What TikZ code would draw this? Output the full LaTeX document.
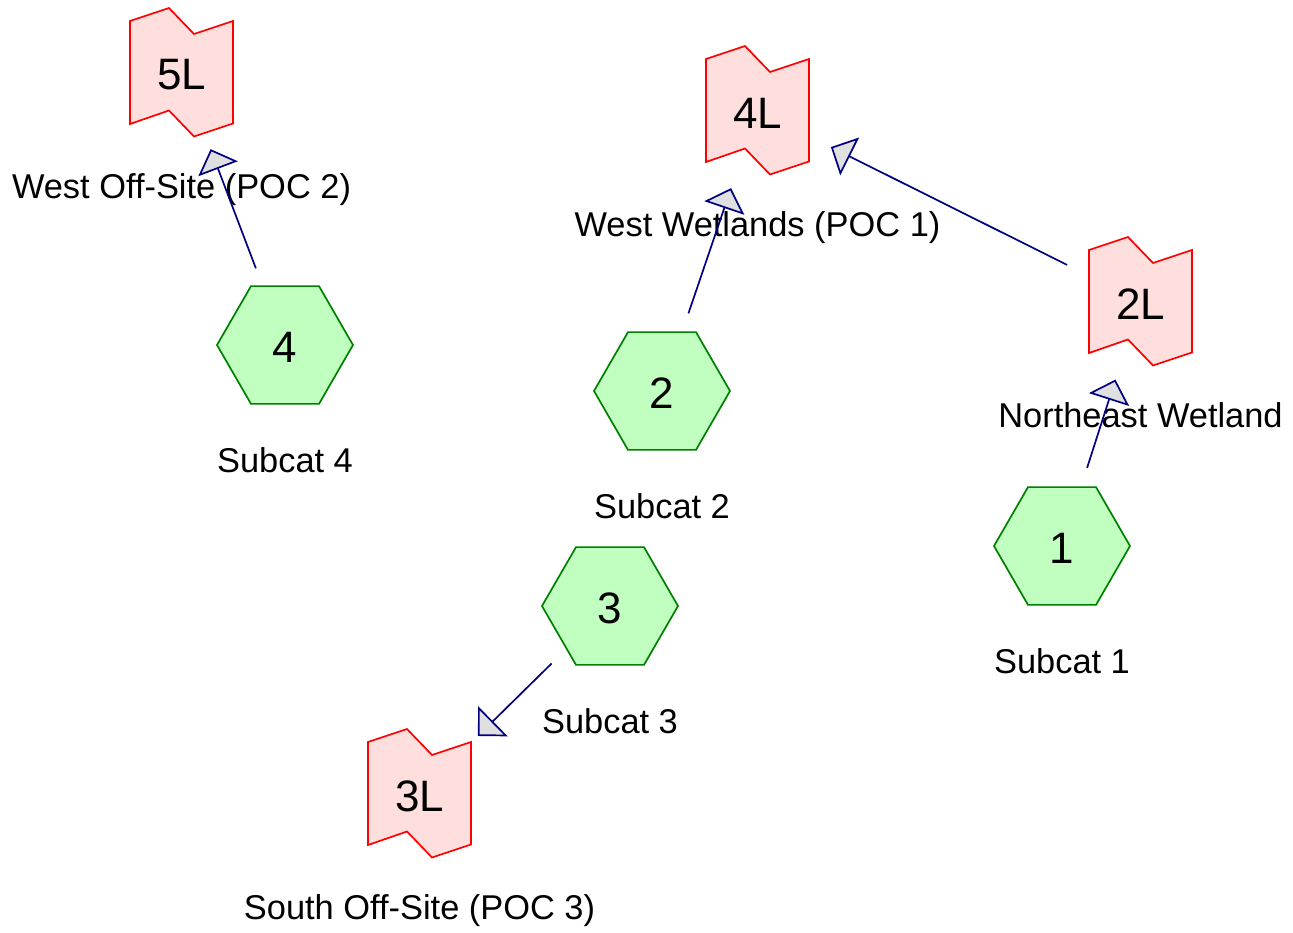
\documentclass[tikz,border=0pt]{standalone}
\usepackage{fontspec}
\setmainfont{Liberation Sans}
\usetikzlibrary{shapes.geometric,arrows.meta,calc}
\definecolor{hexfill}{HTML}{C0FFC0}
\definecolor{hexline}{HTML}{008000}
\definecolor{reachfill}{HTML}{FFDEDE}
\definecolor{reachline}{HTML}{FF0000}
\definecolor{flowline}{HTML}{000080}
\definecolor{tipfill}{HTML}{E0E0E0}
\newcommand\reachpoly[1]{%
  \draw[reachedge] ($(#1.center)+(-51.5,-51.5)$) -- ($(#1.center)+(-12.5,-64.5)$)
    -- ($(#1.center)+(12.5,-38.5)$) -- ($(#1.center)+(51.5,-51.5)$)
    -- ($(#1.center)+(51.5,51)$) -- ($(#1.center)+(12.5,64)$)
    -- ($(#1.center)+(-12.5,38)$) -- ($(#1.center)+(-51.5,51.5)$) -- cycle;}
\begin{document}
\begin{tikzpicture}[x=1pt,y=-1pt,
  idtext/.style={inner sep=0pt,yshift=-2.5pt,font=\fontsize{44}{50}\selectfont},
  subcat/.style={regular polygon,regular polygon sides=6,minimum size=136pt,
    inner sep=0pt,draw=hexline,fill=hexfill,line width=1.7pt,
    label={[idtext]center:#1}},
  reach/.style={inner sep=0pt,minimum size=103pt,label={[idtext]center:#1}},
  reachedge/.style={draw=reachline,fill=reachfill,line width=1.7pt,line join=miter},
  lbl/.style={anchor=base,inner sep=0pt,font=\fontsize{34.4}{40}\selectfont},
  flow/.style={draw=flowline,line width=1.7pt,shorten <=82pt,shorten >=82pt,
    -{Triangle[length=21pt,width=42pt,fill=tipfill,line join=miter]}}]
\useasboundingbox (0,0) rectangle (1293,933);
% reach shapes (drawn first as backgrounds)
\coordinate (c5) at (181.5,72.5);
\coordinate (c4) at (757.5,110.5);
\coordinate (c2) at (1140.5,301.5);
\coordinate (c3) at (419.5,793.5);
\reachpoly{c5}\reachpoly{c4}\reachpoly{c2}\reachpoly{c3}
\node[reach=5L] (r5) at (c5) {};
\node[reach=4L] (r4) at (c4) {};
\node[reach=2L] (r2) at (c2) {};
\node[reach=3L] (r3) at (c3) {};
% subcatchments
\node[subcat=4] (s4) at (285,345) {};
\node[subcat=2] (s2) at (662,391) {};
\node[subcat=3] (s3) at (610,606) {};
\node[subcat=1] (s1) at (1062,546) {};
% labels
\node[lbl] (l4) at ($(s4.center)+(0,127)$) {Subcat 4};
\node[lbl] (l2) at ($(s2.center)+(0,127)$) {Subcat 2};
\node[lbl] (l3) at ($(s3.center)+(0,127)$) {Subcat 3};
\node[lbl] (l1) at ($(s1.center)+(0,127)$) {Subcat 1};
\node[lbl] (lr5) at ($(r5.center)+(0,126)$) {West Off-Site (POC 2)};
\node[lbl] (lr4) at ($(r4.center)+(0,126)$) {West Wetlands (POC 1)};
\node[lbl] (lr2) at ($(r2.center)+(0,126)$) {Northeast Wetland};
\node[lbl] (lr3) at ($(r3.center)+(0,126)$) {South Off-Site (POC 3)};
% flows
\draw[flow] (s4.center) -- (r5.center);
\draw[flow] (s2.center) -- (r4.center);
\draw[flow] (r2.center) -- (r4.center);
\draw[flow] (s1.center) -- (r2.center);
\draw[flow] (s3.center) -- (r3.center);
\end{tikzpicture}
\end{document}
